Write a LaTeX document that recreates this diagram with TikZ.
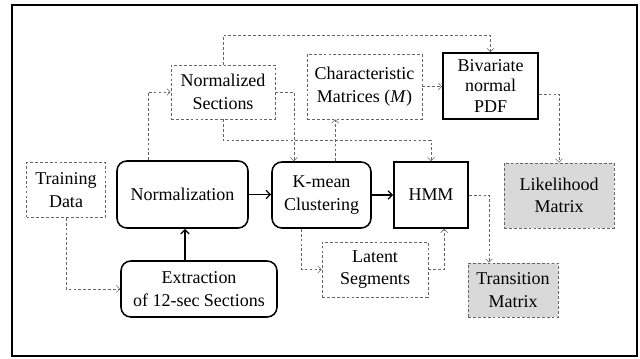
\documentclass[tikz,border=0pt]{standalone}
\usepackage{fontspec}
\setmainfont{Liberation Serif}
\usetikzlibrary{arrows.meta}

\begin{document}
\begin{tikzpicture}[
    font=\fontsize{12.8}{16}\selectfont,
    box/.style={draw,line width=1.1pt,align=center,inner sep=1pt},
    rbox/.style={box,rounded corners=7pt},
    dbox/.style={draw=black!60,dash pattern=on 2pt off 1.5pt,align=center,inner sep=1pt},
    gbox/.style={dbox,fill=black!15},
    dline/.style={draw=black!60,dash pattern=on 2pt off 1.5pt,-{Straight Barb[length=2.5pt,width=5pt]}},
    sline/.style={line width=0.9pt,-{Straight Barb[length=3pt,width=6pt]}}]
    \useasboundingbox (0,0) rectangle (16,8.95);
    \draw[line width=1pt] (0.3,0.05) rectangle (15.925,8.825);
    % nodes
    \node[dbox,minimum width=1.975cm,minimum height=1.375cm] (train) at (1.65,4.2) {Training\\Data};
    \node[rbox,minimum width=3.275cm,minimum height=1.675cm] (norm) at (4.5625,4.0875) {Normalization};
    \node[rbox,minimum width=3.9cm,minimum height=1.4cm] (extract) at (4.975,1.725) {Extraction\\of 12-sec Sections};
    \node[dbox,minimum width=2.6cm,minimum height=1.35cm] (normsec) at (5.575,6.65) {Normalized\\Sections};
    \node[rbox,minimum width=2.475cm,minimum height=1.65cm] (kmean) at (8.0375,4.075) {K-mean\\Clustering};
    \node[box,minimum width=1.85cm,minimum height=1.65cm] (hmm) at (10.775,4.075) {HMM};
    \node[dbox,minimum width=2.875cm,minimum height=1.625cm] (charm) at (9.1125,6.7875) {Characteristic\\Matrices (\textit{M})};
    \node[box,minimum width=2.375cm,minimum height=1.65cm,inner ysep=0pt,
      font=\fontsize{12.8}{14.5}\selectfont] (bivar) at (12.2625,6.8) {Bivariate\\normal\\PDF};
    \node[gbox,minimum width=2.75cm,minimum height=1.625cm] (likeli) at (13.975,4.0625) {Likelihood\\Matrix};
    \node[dbox,minimum width=2.65cm,minimum height=1.375cm] (latent) at (9.375,2.2125) {Latent\\Segments};
    \node[gbox,minimum width=2.25cm,minimum height=1.35cm] (trans) at (12.825,1.7) {Transition\\Matrix};
    % solid arrows
    \draw[sline] ([xshift=-0.35cm]extract.north) -- ([xshift=-0.35cm]extract.north |- norm.south);
    \draw[sline] (norm.east) -- (norm.east -| kmean.west);
    \draw[sline] (kmean.east) -- (kmean.east -| hmm.west);
    % dashed arrows
    \draw[dline] (train.south) |- (extract.west);
    \draw[dline] ([xshift=-0.86cm]norm.north) |- (normsec.west);
    \draw[dline] (normsec.east) -| ([xshift=-0.69cm]kmean.north);
    \draw[dline] (normsec.south) -- ++(0,-0.525) -| (hmm.north);
    \draw[dline] (normsec.north) -- ++(0,0.725) -| (bivar.north);
    \draw[dline] ([xshift=0.34cm]kmean.north) -- ([xshift=0.34cm]kmean.north |- charm.south);
    \draw[dline] (charm.east) -- (charm.east -| bivar.west);
    \draw[dline] ([yshift=-0.2cm]bivar.east) -| (likeli.north);
    \draw[dline] ([xshift=-0.51cm]kmean.south) |- (latent.west);
    \draw[dline] (latent.east) -| ([xshift=0.33cm]hmm.south);
    \draw[dline] (hmm.east) -| ([xshift=-0.6cm]trans.north);
\end{tikzpicture}
\end{document}
